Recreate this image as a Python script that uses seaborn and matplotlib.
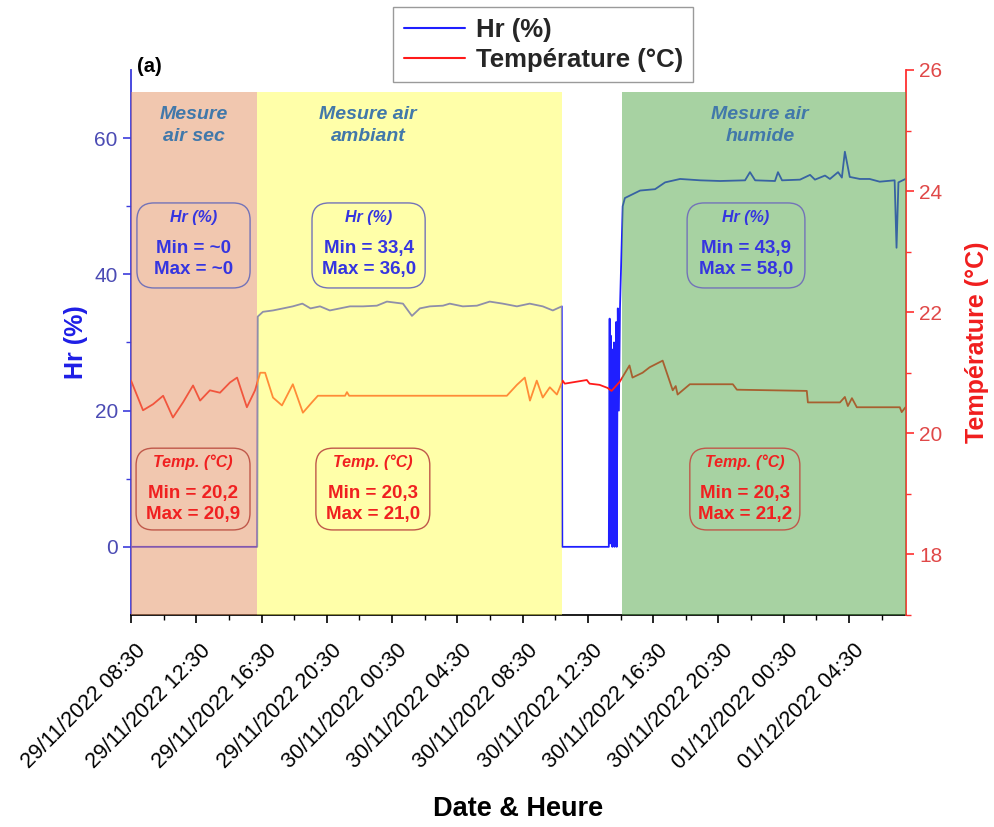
import matplotlib
matplotlib.use("Agg")
import matplotlib.pyplot as plt
import matplotlib.transforms as mtransforms
from matplotlib.patches import FancyBboxPatch
from matplotlib.lines import Line2D
import seaborn as sns
import pandas as pd

# ---------------- data ----------------
hr_times = [
    "29/11/2022 08:30", "29/11/2022 16:14", "29/11/2022 16:16", "29/11/2022 16:35",
    "29/11/2022 17:12", "29/11/2022 17:49", "29/11/2022 18:25", "29/11/2022 19:00",
    "29/11/2022 19:30", "29/11/2022 20:05", "29/11/2022 20:41", "29/11/2022 21:18",
    "29/11/2022 21:55", "29/11/2022 22:43", "29/11/2022 23:34", "30/11/2022 00:11",
    "30/11/2022 01:10", "30/11/2022 01:43", "30/11/2022 02:12", "30/11/2022 02:49",
    "30/11/2022 03:37", "30/11/2022 04:02", "30/11/2022 04:50", "30/11/2022 05:42",
    "30/11/2022 06:29", "30/11/2022 07:17", "30/11/2022 08:09", "30/11/2022 08:56",
    "30/11/2022 09:44", "30/11/2022 10:21", "30/11/2022 10:54", "30/11/2022 10:56",
    "30/11/2022 13:47", "30/11/2022 13:50", "30/11/2022 13:52", "30/11/2022 13:54",
    "30/11/2022 13:56", "30/11/2022 13:58", "30/11/2022 14:00", "30/11/2022 14:02",
    "30/11/2022 14:04", "30/11/2022 14:06", "30/11/2022 14:08", "30/11/2022 14:10",
    "30/11/2022 14:12", "30/11/2022 14:14", "30/11/2022 14:16", "30/11/2022 14:20",
    "30/11/2022 14:24", "30/11/2022 14:28", "30/11/2022 14:38", "30/11/2022 14:46",
    "30/11/2022 15:42", "30/11/2022 16:37", "30/11/2022 17:14", "30/11/2022 18:09",
    "30/11/2022 19:23", "30/11/2022 20:36", "30/11/2022 22:08", "30/11/2022 22:26",
    "30/11/2022 22:45", "30/11/2022 23:58", "01/12/2022 00:09", "01/12/2022 00:24",
    "01/12/2022 01:30", "01/12/2022 02:07", "01/12/2022 02:25", "01/12/2022 03:02",
    "01/12/2022 03:20", "01/12/2022 03:50", "01/12/2022 04:04", "01/12/2022 04:15",
    "01/12/2022 04:33", "01/12/2022 05:10", "01/12/2022 05:46", "01/12/2022 06:23",
    "01/12/2022 07:18", "01/12/2022 07:25", "01/12/2022 07:32", "01/12/2022 07:58",
]
hr_values = [
    0.0, 0.0, 33.8, 34.5,
    34.7, 35.0, 35.3, 35.7,
    35.0, 35.3, 34.7, 35.0,
    35.3, 35.3, 35.4, 36.0,
    35.7, 33.9, 35.0, 35.3,
    35.4, 35.7, 35.3, 35.4,
    36.0, 35.7, 35.3, 35.7,
    35.3, 34.7, 35.3, 0.0,
    0.0, 33.5, 0.5, 31.0,
    1.0, 29.0, 0.0, 27.0,
    3.0, 30.0, 0.0, 25.0,
    5.0, 33.0, 0.0, 35.0,
    20.0, 35.0, 50.0, 51.2,
    52.3, 52.5, 53.5, 54.0,
    53.8, 53.7, 53.8, 55.0,
    53.8, 53.7, 55.0, 53.8,
    53.9, 54.6, 53.9, 54.5,
    54.0, 55.0, 54.2, 58.0,
    54.3, 54.0, 54.0, 53.6,
    53.8, 43.9, 53.5, 54.0,
]

temp_times = [
    "29/11/2022 08:30", "29/11/2022 09:14", "29/11/2022 09:51", "29/11/2022 10:28",
    "29/11/2022 11:04", "29/11/2022 11:41", "29/11/2022 12:18", "29/11/2022 12:44",
    "29/11/2022 13:20", "29/11/2022 13:57", "29/11/2022 14:34", "29/11/2022 15:00",
    "29/11/2022 15:36", "29/11/2022 16:06", "29/11/2022 16:25", "29/11/2022 16:43",
    "29/11/2022 17:12", "29/11/2022 17:45", "29/11/2022 18:25", "29/11/2022 19:02",
    "29/11/2022 19:35", "29/11/2022 19:57", "29/11/2022 21:37", "29/11/2022 21:44",
    "29/11/2022 21:52", "30/11/2022 07:32", "30/11/2022 08:09", "30/11/2022 08:38",
    "30/11/2022 08:57", "30/11/2022 09:22", "30/11/2022 09:44", "30/11/2022 10:10",
    "30/11/2022 10:36", "30/11/2022 10:57", "30/11/2022 11:05", "30/11/2022 12:26",
    "30/11/2022 12:36", "30/11/2022 13:13", "30/11/2022 13:42", "30/11/2022 13:57",
    "30/11/2022 14:27", "30/11/2022 15:03", "30/11/2022 15:14", "30/11/2022 15:51",
    "30/11/2022 16:17", "30/11/2022 17:05", "30/11/2022 17:42", "30/11/2022 17:53",
    "30/11/2022 18:00", "30/11/2022 18:45", "30/11/2022 21:23", "30/11/2022 21:38",
    "01/12/2022 01:55", "01/12/2022 01:59", "01/12/2022 03:57", "01/12/2022 04:15",
    "01/12/2022 04:26", "01/12/2022 04:41", "01/12/2022 04:59", "01/12/2022 07:37",
    "01/12/2022 07:44", "01/12/2022 07:58",
]
temp_values = [
    20.87, 20.38, 20.48, 20.62,
    20.26, 20.51, 20.79, 20.54,
    20.71, 20.67, 20.84, 20.92,
    20.43, 20.71, 21.00, 21.00,
    20.59, 20.46, 20.81, 20.34,
    20.51, 20.62, 20.62, 20.68,
    20.62, 20.62, 20.80, 20.92,
    20.54, 20.87, 20.59, 20.76,
    20.64, 20.87, 20.82, 20.88,
    20.82, 20.80, 20.75, 20.70,
    20.85, 21.12, 20.92, 21.00,
    21.09, 21.20, 20.71, 20.78,
    20.64, 20.81, 20.81, 20.72,
    20.70, 20.51, 20.51, 20.60,
    20.45, 20.58, 20.43, 20.43,
    20.35, 20.43,
]

phase_labels = ["Mesure\nair sec", "Mesure air\nambiant", "Mesure air\nhumide"]
phase_starts = ["29/11/2022 08:30", "29/11/2022 16:13", "30/11/2022 14:35"]
phase_ends = ["29/11/2022 16:13", "30/11/2022 10:54", "01/12/2022 08:00"]
phase_colors = ["#E59161", "#FFFF55", "#51A747"]
hr_min = ["~0", "33,4", "43,9"]
hr_max = ["~0", "36,0", "58,0"]
temp_min = ["20,2", "20,3", "20,3"]
temp_max = ["20,9", "21,0", "21,2"]

fmt = "%d/%m/%Y %H:%M"
df_hr = pd.DataFrame({"t": pd.to_datetime(hr_times, format=fmt), "hr": hr_values})
df_t = pd.DataFrame({"t": pd.to_datetime(temp_times, format=fmt), "temp": temp_values})

# ---------------- style ----------------
sns.set_theme(style="ticks")
plt.rcParams["font.family"] = ["Liberation Sans", "DejaVu Sans"]

HR_COL = "#1F1FFF"
T_COL = "#FF1A1A"

fig = plt.figure(figsize=(9.95, 8.27), dpi=100)
ax = fig.add_axes([0.1317, 0.2564, 0.7789, 0.659])
ax2 = ax.twinx()

sns.lineplot(data=df_hr, x="t", y="hr", ax=ax, color=HR_COL, lw=1.3,
             estimator=None, sort=False, zorder=2)
sns.lineplot(data=df_t, x="t", y="temp", ax=ax2, color=T_COL, lw=1.3,
             estimator=None, sort=False, zorder=2)

xmin = pd.to_datetime("29/11/2022 08:30", format=fmt)
xmax = pd.to_datetime("01/12/2022 08:00", format=fmt)
ax.set_xlim(xmin, xmax)
ax.set_ylim(-10, 70)
ax2.set_ylim(17, 26)

# shaded phases (drawn over the lines, like the original)
for s, e, c in zip(phase_starts, phase_ends, phase_colors):
    ax2.axvspan(pd.to_datetime(s, format=fmt), pd.to_datetime(e, format=fmt),
                ymin=0, ymax=0.96, color=c, alpha=0.5, lw=0, zorder=3)

# axes styling
ax.set_yticks([0, 20, 40, 60])
ax.set_yticks([10, 30, 50], minor=True)
ax2.set_yticks([18, 20, 22, 24, 26])
ax2.set_yticks([17, 19, 21, 23, 25], minor=True)

major = pd.date_range(xmin, periods=12, freq="4h")
minor = pd.date_range(xmin + pd.Timedelta(hours=2), periods=12, freq="4h")
ax.set_xticks(major)
ax.set_xticks(minor, minor=True)
ax.set_xticklabels([d.strftime("%d/%m/%Y %H:%M") for d in major],
                   rotation=45, ha="right", rotation_mode="default", fontsize=15.5)

ax.spines["top"].set_visible(False)
ax2.spines["top"].set_visible(False)
ax.spines["right"].set_visible(False)
ax2.spines["left"].set_visible(False)
ax2.spines["bottom"].set_visible(False)
ax.spines["left"].set_color("#3C3CDC")
ax.spines["left"].set_linewidth(1.3)
ax.spines["bottom"].set_color("black")
ax2.spines["right"].set_color("#FF3030")
ax2.spines["right"].set_linewidth(1.3)

ax.tick_params(axis="y", which="both", colors="#3C3CDC", labelcolor="#4B4BB4",
               labelsize=15, direction="out")
ax.tick_params(axis="y", which="major", length=6, width=1.2)
ax.tick_params(axis="y", which="minor", length=3.5, width=1.0)
ax.tick_params(axis="x", which="major", length=6, width=1.2, colors="black", pad=12)
ax.tick_params(axis="x", which="minor", length=3.5, width=1.0, colors="black")
ax2.tick_params(axis="y", which="both", colors="#FF3030", labelcolor="#E04848",
                labelsize=15, direction="out")
ax2.tick_params(axis="y", which="major", length=6, width=1.2)
ax2.tick_params(axis="y", which="minor", length=3.5, width=1.0)

ax.set_ylabel("Hr (%)", color="#1E1EE6", fontsize=18, fontweight="bold", labelpad=5)
ax2.set_ylabel("Température (°C)", color="#F01E1E", fontsize=18, fontweight="bold",
               labelpad=16)
ax.set_xlabel("Date & Heure", color="black", fontsize=19.5, fontweight="bold",
              labelpad=16)

# phase titles
title_x = [0.0813, 0.306, 0.8116]
for x, lab in zip(title_x, phase_labels):
    ax2.text(x, 0.898, lab, transform=ax2.transAxes, ha="center", va="center",
             fontsize=14, fontstyle="italic", fontweight="bold", color="#4178AA",
             linespacing=1.45, zorder=6)

# stat boxes
hr_box = [(0.0806, 0.146), (0.3065, 0.146), (0.7935, 0.152)]
t_box = [(0.080, 0.147), (0.312, 0.147), (0.792, 0.142)]
asp = 775 / 545
for (cx, w), mn, mx in zip(hr_box, hr_min, hr_max):
    ax2.add_patch(FancyBboxPatch((cx - w / 2, 0.600), w, 0.156,
                                 boxstyle="round,pad=0,rounding_size=0.022",
                                 mutation_aspect=asp, transform=ax2.transAxes,
                                 fc="none", ec="#7373B8", lw=1.0, zorder=6))
    ax2.text(cx, 0.730, "Hr (%)", transform=ax2.transAxes, ha="center", va="center",
             fontsize=11.5, fontstyle="italic", fontweight="bold", color="#3535E0", zorder=7)
    ax2.text(cx, 0.653, f"Min = {mn}\nMax = {mx}", transform=ax2.transAxes,
             ha="center", va="center", fontsize=13.5, fontweight="bold",
             color="#3535E0", linespacing=1.3, zorder=7)

for (cx, w), mn, mx in zip(t_box, temp_min, temp_max):
    ax2.add_patch(FancyBboxPatch((cx - w / 2, 0.156), w, 0.150,
                                 boxstyle="round,pad=0,rounding_size=0.022",
                                 mutation_aspect=asp, transform=ax2.transAxes,
                                 fc="none", ec="#C0584A", lw=1.0, zorder=6))
    ax2.text(cx, 0.281, "Temp. (°C)", transform=ax2.transAxes, ha="center", va="center",
             fontsize=11.5, fontstyle="italic", fontweight="bold", color="#F02020", zorder=7)
    ax2.text(cx, 0.204, f"Min = {mn}\nMax = {mx}", transform=ax2.transAxes,
             ha="center", va="center", fontsize=13.5, fontweight="bold",
             color="#F02020", linespacing=1.3, zorder=7)

fig.text(0.138, 0.919, "(a)", fontsize=14.5, fontweight="bold", color="black",
         ha="left", va="center")

handles = [Line2D([], [], color=HR_COL, lw=1.5), Line2D([], [], color=T_COL, lw=1.5)]
leg = fig.legend(handles, ["Hr (%)", "Température (°C)"], loc="upper center",
                 bbox_to_anchor=(0.546, 0.991), prop={"weight": "bold", "size": 18.5},
                 frameon=True, fancybox=False, edgecolor="#9A9A9A", framealpha=1,
                 handlelength=2.4, borderpad=0.4, labelspacing=0.25, handletextpad=0.4,
                 borderaxespad=0)
leg.get_frame().set_linewidth(1.0)

for a in (ax, ax2):
    if a.get_legend() is not None:
        a.get_legend().remove()

# shift rotated date labels to the right, as in the original
offset = mtransforms.ScaledTranslation(19 / 100, 0, fig.dpi_scale_trans)
for tick in ax.xaxis.get_major_ticks():
    tick.label1.set_transform(tick.label1.get_transform() + offset)

fig.savefig("out.png", dpi=100)
